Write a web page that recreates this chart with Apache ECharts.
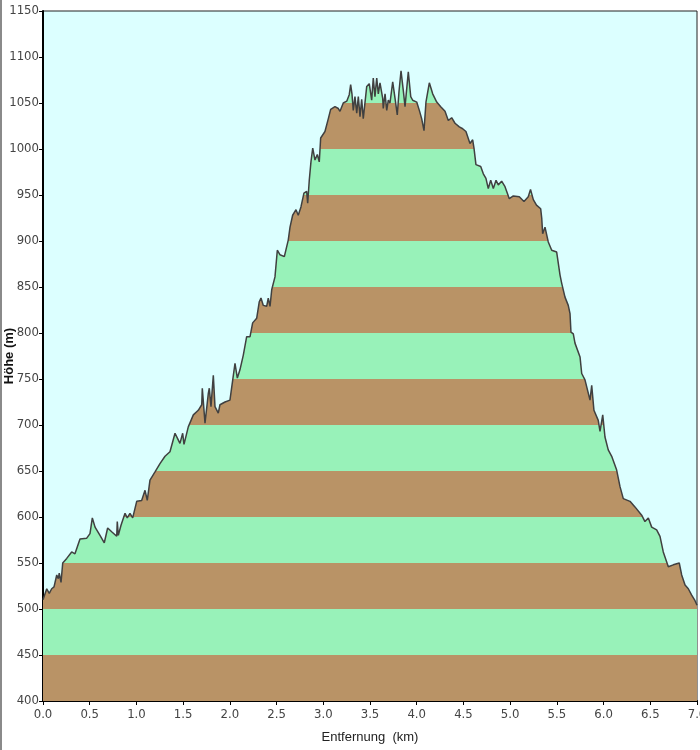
<!DOCTYPE html>
<html>
<head>
<meta charset="utf-8">
<script src="https://cdn.jsdelivr.net/npm/echarts@6/dist/echarts.min.js"></script>
<style>
html,body{margin:0;padding:0;background:#fff;}
#chart{width:700px;height:750px;}
</style>
</head>
<body>
<div id="chart"></div>
<script>
// distance along the route (km)
var distKm = [0.00,0.040,0.067,0.093,0.118,0.147,0.164,0.174,0.193,0.211,0.254,0.307,0.342,0.396,0.468,0.503,0.528,0.557,0.610,0.656,0.692,0.735,0.789,0.795,0.806,0.835,0.878,0.902,0.931,0.960,1.003,1.056,1.092,1.116,1.145,1.199,1.252,1.306,1.359,1.413,1.437,1.466,1.495,1.509,1.555,1.609,1.662,1.699,1.705,1.734,1.769,1.780,1.798,1.823,1.841,1.876,1.894,1.948,2.001,2.055,2.080,2.108,2.144,2.180,2.216,2.244,2.287,2.315,2.333,2.358,2.394,2.411,2.430,2.448,2.483,2.508,2.537,2.583,2.625,2.644,2.672,2.708,2.732,2.761,2.793,2.822,2.833,2.850,2.868,2.887,2.911,2.936,2.957,2.972,3.018,3.054,3.079,3.125,3.161,3.179,3.214,3.251,3.278,3.293,3.307,3.321,3.339,3.358,3.375,3.393,3.411,3.428,3.446,3.465,3.492,3.518,3.535,3.553,3.572,3.589,3.607,3.636,3.642,3.661,3.679,3.696,3.714,3.743,3.768,3.792,3.810,3.832,3.856,3.875,3.910,3.936,3.957,4.000,4.028,4.053,4.078,4.099,4.135,4.171,4.214,4.257,4.303,4.338,4.374,4.410,4.456,4.492,4.527,4.570,4.599,4.613,4.634,4.685,4.713,4.741,4.766,4.792,4.820,4.849,4.873,4.909,4.945,4.991,5.034,5.098,5.148,5.194,5.218,5.248,5.282,5.327,5.338,5.348,5.373,5.408,5.445,5.498,5.534,5.552,5.587,5.622,5.641,5.651,5.676,5.694,5.748,5.766,5.801,5.855,5.873,5.897,5.943,5.962,5.991,6.015,6.050,6.087,6.140,6.176,6.211,6.283,6.336,6.408,6.443,6.479,6.515,6.568,6.604,6.639,6.693,6.746,6.810,6.836,6.872,6.907,6.943,6.979,7.000];
// elevation (m)
var elevM = [510,522,517,522,524,537,533,539,529,550,555,562,560,576,577,582,599,589,580,572,588,584,579,595,580,591,604,599,604,599,617,618,629,618,640,649,658,666,671,691,686,680,691,679,698,711,716,722,740,702,734,740,720,754,720,713,722,725,727,767,751,760,776,796,796,811,816,834,838,830,829,838,829,847,861,890,885,883,901,915,928,934,928,937,952,954,941,966,986,1001,988,994,986,1012,1019,1033,1043,1046,1044,1041,1050,1052,1059,1070,1060,1042,1057,1039,1057,1035,1054,1033,1031,1068,1071,1053,1077,1057,1077,1060,1072,1055,1044,1060,1042,1053,1050,1073,1055,1037,1062,1085,1064,1046,1084,1057,1053,1051,1042,1033,1020,1051,1072,1060,1051,1046,1041,1031,1034,1028,1024,1022,1019,1006,1010,1001,983,981,973,968,957,966,957,966,961,965,959,946,949,948,943,948,956,945,939,935,925,908,915,899,890,888,863,854,839,830,821,801,799,789,774,756,749,727,743,716,705,693,711,687,673,666,651,633,620,617,611,602,595,599,589,586,579,562,546,548,550,537,526,522,515,509,504];
// elevation bands (m) and their colours
var bandEdges = [400,450,500,550,600,650,700,750,800,850,900,950,1000,1050,1100,1150];
var bandColors = ['#b99366','#98f2b9'];
var yTicks = [400,1150,50];
var xTicks = [0,7,0.5];

var pieces = [];
for (var i = 0; i < bandEdges.length - 1; i++) {
  pieces.push({gte: bandEdges[i], lt: bandEdges[i+1], color: bandColors[i % 2]});
}
var data = distKm.map(function(d, i){ return [d, elevM[i]]; });

var font = "'DejaVu Sans Condensed','Liberation Sans',Arial,sans-serif";
var chart = echarts.init(document.getElementById('chart'), null, {renderer:'canvas'});
chart.setOption({
  animation: false,
  backgroundColor: '#ffffff',
  grid: {left: 43, right: 3, top: 11, bottom: 49, containLabel: false, outerBoundsMode: 'none',
         show: true, backgroundColor: '#dcffff', borderColor: '#222', borderWidth: 1},
  xAxis: {
    type: 'value', min: xTicks[0], max: xTicks[1], interval: xTicks[2],
    name: 'Entfernung  (km)', nameLocation: 'middle', nameGap: 30, nameMoveOverlap: false,
    nameTextStyle: {fontFamily: "'Liberation Sans',Arial,sans-serif", fontSize: 13, color: '#222'},
    axisLine: {lineStyle: {color: '#000', width: 2}},
    axisTick: {length: 4, lineStyle: {color: '#000'}},
    axisLabel: {margin: 7, fontFamily: font, fontSize: 13, color: '#444', formatter: function(v){ return v.toFixed(1); }},
    splitLine: {show: false}
  },
  yAxis: {
    type: 'value', min: yTicks[0], max: yTicks[1], interval: yTicks[2],
    name: 'Höhe (m)', nameLocation: 'middle', nameGap: 27, nameMoveOverlap: false,
    nameTextStyle: {fontFamily: "'Liberation Sans',Arial,sans-serif", fontSize: 13, fontWeight: 'bold', color: '#111'},
    axisLine: {lineStyle: {color: '#000', width: 2}},
    axisTick: {length: 4, lineStyle: {color: '#000'}},
    axisLabel: {margin: 4, fontFamily: font, fontSize: 13, color: '#444', formatter: function(v){ return String(v); }},
    splitLine: {show: false}
  },
  visualMap: {
    type: 'piecewise', show: false, dimension: 1, seriesIndex: 0,
    pieces: pieces
  },
  series: [
    {
      type: 'line', data: data, showSymbol: false, silent: true,
      lineStyle: {width: 0},
      areaStyle: {origin: 'start', opacity: 1}
    },
    {
      type: 'line', data: data, showSymbol: false, silent: true,
      lineStyle: {width: 1.5, color: '#404040'}
    }
  ],
  graphic: [
    {type: 'rect', left: 0, top: 0, shape: {width: 2, height: 750}, style: {fill: '#8a8a8a'}, silent: true}
  ]
});
</script>
</body>
</html>
